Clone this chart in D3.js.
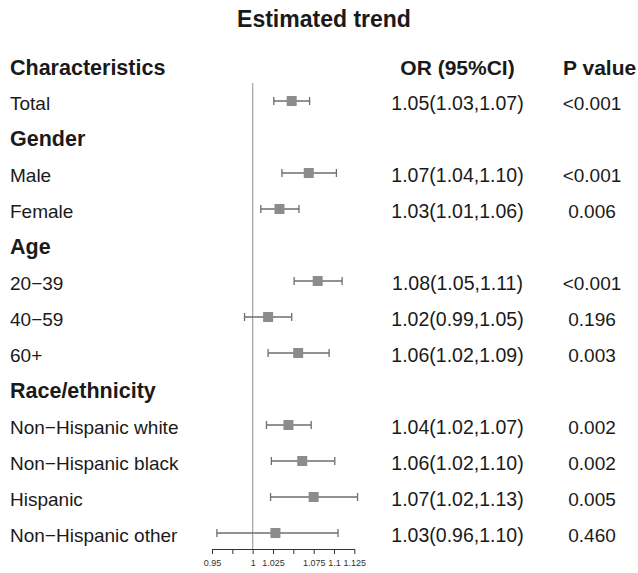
<!DOCTYPE html>
<html>
<head>
<meta charset="utf-8">
<script src="https://cdn.jsdelivr.net/npm/d3@7"></script>
<style>
  html, body { margin: 0; padding: 0; background: #fff; }
  svg { display: block; font-family: "Liberation Sans", Arial, Helvetica, sans-serif; }
</style>
</head>
<body>
<svg id="chart" width="638" height="573"></svg>
<script>
// ---- data ----
const title = "Estimated trend";
const headers = ["Characteristics", "OR (95%CI)", "P value"];
const labels = ["Total", "Gender", "Male", "Female", "Age", "20\u221239", "40\u221259", "60+",
  "Race/ethnicity", "Non\u2212Hispanic white", "Non\u2212Hispanic black", "Hispanic", "Non\u2212Hispanic other"];
const isGroup = [false, true, false, false, true, false, false, false, true, false, false, false, false];
const orText = ["1.05(1.03,1.07)", "", "1.07(1.04,1.10)", "1.03(1.01,1.06)", "", "1.08(1.05,1.11)",
  "1.02(0.99,1.05)", "1.06(1.02,1.09)", "", "1.04(1.02,1.07)", "1.06(1.02,1.10)", "1.07(1.02,1.13)", "1.03(0.96,1.10)"];
const pText = ["<0.001", "", "<0.001", "0.006", "", "<0.001", "0.196", "0.003", "", "0.002", "0.002", "0.005", "0.460"];
const mean  = [1.048, null, 1.069, 1.033, null, 1.080, 1.019, 1.056, null, 1.044, 1.061, 1.075, 1.028];
const lower = [1.026, null, 1.036, 1.010, null, 1.051, 0.990, 1.019, null, 1.017, 1.023, 1.022, 0.956];
const upper = [1.070, null, 1.103, 1.057, null, 1.110, 1.048, 1.094, null, 1.072, 1.101, 1.129, 1.105];
const tickValues = [0.95, 0.975, 1, 1.025, 1.05, 1.075, 1.1, 1.125];
const tickLabels = ["0.95", "", "1", "1.025", "", "1.075", "1.1", "1.125"];
const refValue = 1;

// ---- layout ----
const svg = d3.select("#chart");
const rowKeys = ["header"].concat(labels.map((d, i) => "r" + i));
const y = d3.scalePoint().domain(rowKeys).range([65, 533]);
const x = d3.scaleLinear().domain([0.95, 1.125]).range([212, 354.3]);
const axisY = 549;
const colLabelX = 10, colOrX = 457.5, colPX = 592;
const textOff = 8.5;
const ink = "#1a1a1a";

// title
svg.append("text").attr("x", 324).attr("y", 26.5)
  .attr("text-anchor", "middle").attr("font-weight", "bold").attr("font-size", 23)
  .attr("fill", ink).text(title);

// headers
const hy = y("header") + textOff + 1.5;
svg.append("text").attr("x", colLabelX).attr("y", hy).attr("font-weight", "bold")
  .attr("font-size", 21.5).attr("fill", ink).text(headers[0]);
svg.append("text").attr("x", colOrX).attr("y", hy).attr("text-anchor", "middle").attr("font-weight", "bold")
  .attr("font-size", 21).attr("fill", ink).text(headers[1]);
svg.append("text").attr("x", 563).attr("y", hy).attr("font-weight", "bold")
  .attr("font-size", 21).attr("fill", ink).text(headers[2]);

// rows text
const rows = labels.map((l, i) => ({ key: "r" + i, label: l, group: isGroup[i], or: orText[i], p: pText[i],
  m: mean[i], lo: lower[i], hi: upper[i] }));

svg.append("g").selectAll("text").data(rows).join("text")
  .attr("x", colLabelX).attr("y", d => y(d.key) + textOff + (d.group ? 0.5 : 0))
  .attr("font-weight", d => d.group ? "bold" : "normal")
  .attr("font-size", d => d.group ? 21.5 : 19)
  .attr("fill", ink).text(d => d.label);

svg.append("g").selectAll("text").data(rows.filter(d => d.or)).join("text")
  .attr("x", colOrX).attr("y", d => y(d.key) + textOff)
  .attr("text-anchor", "middle").attr("font-size", 19.5).attr("fill", ink).text(d => d.or);

svg.append("g").selectAll("text").data(rows.filter(d => d.p)).join("text")
  .attr("x", colPX).attr("y", d => y(d.key) + textOff)
  .attr("text-anchor", "middle").attr("font-size", 19).attr("fill", ink).text(d => d.p);

// reference line
svg.append("line").attr("x1", x(refValue)).attr("x2", x(refValue))
  .attr("y1", 83).attr("y2", axisY).attr("stroke", "#aaaaaa").attr("stroke-width", 1.3);

// CI whiskers
const est = rows.filter(d => d.m != null);
const g = svg.append("g");
g.selectAll("line.ci").data(est).join("line").attr("class", "ci")
  .attr("x1", d => x(d.lo)).attr("x2", d => x(d.hi))
  .attr("y1", d => y(d.key)).attr("y2", d => y(d.key))
  .attr("stroke", "#6e6e6e").attr("stroke-width", 1.3);
g.selectAll("line.capL").data(est).join("line").attr("class", "capL")
  .attr("x1", d => x(d.lo)).attr("x2", d => x(d.lo))
  .attr("y1", d => y(d.key) - 4).attr("y2", d => y(d.key) + 4)
  .attr("stroke", "#6e6e6e").attr("stroke-width", 1.3);
g.selectAll("line.capR").data(est).join("line").attr("class", "capR")
  .attr("x1", d => x(d.hi)).attr("x2", d => x(d.hi))
  .attr("y1", d => y(d.key) - 4).attr("y2", d => y(d.key) + 4)
  .attr("stroke", "#6e6e6e").attr("stroke-width", 1.3);
g.selectAll("rect").data(est).join("rect")
  .attr("x", d => x(d.m) - 5).attr("y", d => y(d.key) - 5)
  .attr("width", 10).attr("height", 10).attr("fill", "#8c8c8c");

// axis
const axis = d3.axisBottom(x).tickValues(tickValues).tickSize(5).tickSizeOuter(0)
  .tickFormat((d, i) => tickLabels[i]);
const ag = svg.append("g").attr("transform", `translate(0,${axisY})`).call(axis);
ag.select(".domain").attr("stroke", "#333").attr("stroke-width", 1);
ag.selectAll(".tick line").attr("stroke", "#333");
ag.selectAll(".tick text").attr("font-family", "Liberation Sans, Arial, sans-serif")
  .attr("font-size", 9).attr("fill", "#333").attr("dy", "0.95em");
</script>
</body>
</html>
